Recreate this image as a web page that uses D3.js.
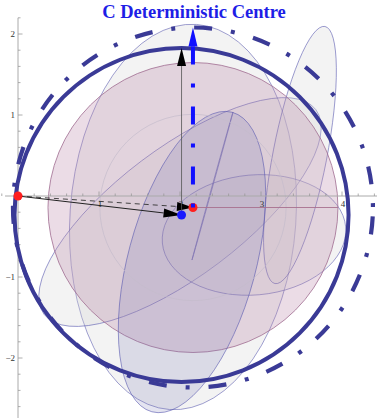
<!DOCTYPE html>
<html>
<head>
<meta charset="utf-8">
<script src="https://cdn.jsdelivr.net/npm/d3@7"></script>
<style>
  body { margin: 0; background: #fff; }
  svg { display: block; }
</style>
</head>
<body>
<div id="chart"></div>
<script>
// ---- data (plot coordinates) ----
const xTickLabels = [1, 2, 3, 4];
const yTickLabels = [-2, -1, 1, 2];

// ellipses: centre, semi axes, rotation (degrees, counter-clockwise)
const ellCx = [2.037, 2.000, 2.914, 3.481, 2.401, 2.148];
const ellCy = [-0.259, -0.198, -0.481, 0.506, 0.123, -0.815];
const ellRx = [1.395, 2.100, 1.136, 0.333, 0.948, 0.790];
const ellRy = [2.383, 0.790, 0.741, 1.617, 0.004, 1.914];
const ellAngle = [-4, 37, 5, -11, 74.5, -15];
const shadedIndex = 5;

const origin = [0, 0];
const centreC = [2.160, -0.142];   // red centre
const centreB = [2.019, -0.235];   // blue centre
const radiusPink = 1.79;
const radiusFaint = 1.15;
const radiusDashed = 2.222;
const radiusThick = 2.062;

const svgWidth = 377;
const svgHeight = 418;
const navy = "#3a3a96";

const x = d3.scaleLinear().domain([0, 4]).range([18, 342]);
const y = d3.scaleLinear().domain([0, 2]).range([196, 34]);
const k = x(1) - x(0);

const svg = d3.select("#chart")
  .append("svg")
  .attr("width", svgWidth)
  .attr("height", svgHeight);

// ----------------------------- ellipses -------------------------------
const ellIdx = d3.range(ellCx.length);

function drawEllipses(sel) {
  sel.attr("cx", i => x(ellCx[i]))
    .attr("cy", i => y(ellCy[i]))
    .attr("rx", i => ellRx[i] * k)
    .attr("ry", i => ellRy[i] * k)
    .attr("transform", i => `rotate(${-ellAngle[i]},${x(ellCx[i])},${y(ellCy[i])})`)
    .attr("stroke", "#5a5ab0")
    .attr("stroke-opacity", 0.8)
    .attr("stroke-width", 0.7);
}

svg.selectAll(".ell")
  .data(ellIdx.filter(i => i !== shadedIndex))
  .join("ellipse")
  .attr("class", "ell")
  .call(drawEllipses)
  .attr("fill", "#d4d4d4")
  .attr("fill-opacity", 0.28);

// pink circle round the centre
svg.append("circle")
  .attr("cx", x(centreC[0])).attr("cy", y(centreC[1]))
  .attr("r", radiusPink * k)
  .attr("fill", "rgb(190,140,172)").attr("fill-opacity", 0.3)
  .attr("stroke", "#a06c90").attr("stroke-width", 0.8);

svg.selectAll(".ell-shaded")
  .data([shadedIndex])
  .join("ellipse")
  .attr("class", "ell-shaded")
  .call(drawEllipses)
  .attr("fill", "rgb(120,118,178)")
  .attr("fill-opacity", 0.2);

svg.append("circle")
  .attr("cx", x(centreC[0])).attr("cy", y(centreC[1]))
  .attr("r", radiusFaint * k)
  .attr("fill", "none")
  .attr("stroke", "#c4bccb").attr("stroke-width", 0.7);

svg.append("line")
  .attr("x1", x(centreC[0])).attr("y1", y(centreC[1]))
  .attr("x2", x(centreC[0] + radiusPink)).attr("y2", y(centreC[1]))
  .attr("stroke", "#a8708f").attr("stroke-width", 0.9);

// ------------------------------- axes ---------------------------------
svg.append("line")
  .attr("x1", x(-0.16)).attr("x2", x(4.45))
  .attr("y1", y(0)).attr("y2", y(0))
  .attr("stroke", "#aaa").attr("stroke-width", 1);

svg.append("line")
  .attr("x1", x(0)).attr("x2", x(0))
  .attr("y1", y(2.2)).attr("y2", y(-2.75))
  .attr("stroke", "#aaa").attr("stroke-width", 1);

const xMinor = d3.range(-1, 23).map(i => i / 5);
const yMinor = d3.range(-14, 12).map(i => i / 5);

svg.selectAll(".xtick")
  .data(xMinor)
  .join("line")
  .attr("class", "xtick")
  .attr("x1", d => x(d)).attr("x2", d => x(d))
  .attr("y1", y(0))
  .attr("y2", d => y(0) - (Math.abs(d - Math.round(d)) < 1e-6 ? 4.5 : 2.5))
  .attr("stroke", "#999").attr("stroke-width", 0.8);

svg.selectAll(".ytick")
  .data(yMinor)
  .join("line")
  .attr("class", "ytick")
  .attr("y1", d => y(d)).attr("y2", d => y(d))
  .attr("x1", x(0))
  .attr("x2", d => x(0) + (Math.abs(d - Math.round(d)) < 1e-6 ? 4.5 : 2.5))
  .attr("stroke", "#999").attr("stroke-width", 0.8);

svg.selectAll(".xlab")
  .data(xTickLabels)
  .join("text")
  .attr("class", "xlab")
  .attr("x", d => x(d) + 1)
  .attr("y", y(0) + 11)
  .attr("text-anchor", "middle")
  .attr("font-family", "Liberation Serif, serif")
  .attr("font-size", 9)
  .attr("fill", "#333")
  .text(d => d);

svg.selectAll(".ylab")
  .data(yTickLabels)
  .join("text")
  .attr("class", "ylab")
  .attr("x", x(0) - 3)
  .attr("y", d => y(d) + 3)
  .attr("text-anchor", "end")
  .attr("font-family", "Liberation Serif, serif")
  .attr("font-size", 9)
  .attr("fill", "#333")
  .text(d => d < 0 ? "\u2212" + Math.abs(d) : d);

// --------------------------- big circles ------------------------------
svg.append("circle")
  .attr("cx", x(centreB[0])).attr("cy", y(centreB[1]))
  .attr("r", radiusThick * k)
  .attr("fill", "none")
  .attr("stroke", navy).attr("stroke-width", 4);

svg.append("circle")
  .attr("cx", x(centreC[0])).attr("cy", y(centreC[1]))
  .attr("r", radiusDashed * k)
  .attr("fill", "none")
  .attr("stroke", navy).attr("stroke-width", 4.2)
  .attr("stroke-dasharray", "18,19,4,19")
  .attr("stroke-dashoffset", 51);

// ------------------------------ arrows --------------------------------
function arrow(p, q, opts) {
  const x1 = x(p[0]), y1 = y(p[1]), x2 = x(q[0]), y2 = y(q[1]);
  const d = Math.hypot(x2 - x1, y2 - y1);
  const ux = (x2 - x1) / d, uy = (y2 - y1) / d;
  const bx = x2 - ux * opts.len, by = y2 - uy * opts.len;
  svg.append("line")
    .attr("x1", x1).attr("y1", y1).attr("x2", bx).attr("y2", by)
    .attr("stroke", opts.color)
    .attr("stroke-width", opts.width)
    .attr("stroke-dasharray", opts.dash || null);
  svg.append("polygon")
    .attr("points", [[x2, y2], [bx - uy * opts.half, by + ux * opts.half], [bx + uy * opts.half, by - ux * opts.half]].join(" "))
    .attr("fill", opts.head);
}

arrow(origin, centreC, { color: "#333", width: 0.9, dash: "5,4", len: 16, half: 4.5, head: "#000" });
arrow(origin, centreB, { color: "#222", width: 1, len: 18, half: 4.5, head: "#000" });
arrow(centreB, [centreB[0], centreB[1] + radiusThick], { color: "#555", width: 0.8, len: 18, half: 4.5, head: "#000" });

// dots
svg.append("circle").attr("cx", x(origin[0])).attr("cy", y(origin[1])).attr("r", 4.5).attr("fill", "#ff1f1f");
svg.append("circle").attr("cx", x(centreC[0])).attr("cy", y(centreC[1])).attr("r", 4.5).attr("fill", "#ff1f1f");
svg.append("circle").attr("cx", x(centreB[0])).attr("cy", y(centreB[1])).attr("r", 4.5).attr("fill", "#1a1aff");

arrow(centreC, [centreC[0], centreC[1] + radiusDashed], { color: "#1010ff", width: 4, dash: "4,19,18,19", len: 19, half: 4.5, head: "#1010ff" });

// ------------------------------- title --------------------------------
svg.append("text")
  .attr("x", 194)
  .attr("y", 18)
  .attr("text-anchor", "middle")
  .attr("font-family", "Liberation Serif, serif")
  .attr("font-weight", "bold")
  .attr("font-size", 18.5)
  .attr("fill", "#1e1ee6")
  .text("C Deterministic Centre");
</script>
</body>
</html>
